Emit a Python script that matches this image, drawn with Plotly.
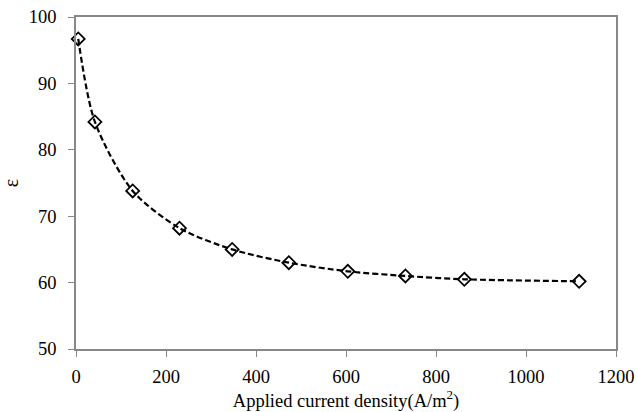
import plotly.graph_objects as go

current_density = [5, 42, 126, 230, 347, 473, 604, 732, 863, 1118]
epsilon = [96.7, 84.2, 73.8, 68.2, 65.0, 63.0, 61.7, 61.0, 60.5, 60.2]

x_ticks = [0, 200, 400, 600, 800, 1000, 1200]
y_ticks = [50, 60, 70, 80, 90, 100]

SERIF = "Liberation Serif"

fig = go.Figure()
fig.add_trace(go.Scatter(
    x=current_density, y=epsilon, mode="lines+markers",
    line=dict(color="black", width=2.2, dash="6px,3px", shape="spline", smoothing=0.8),
    marker=dict(symbol="diamond-open", size=10, color="black", line=dict(width=1.8, color="black")),
    showlegend=False, cliponaxis=False,
))

axis_common = dict(
    showline=True, linecolor="#888888", linewidth=1.5, mirror=True,
    ticks="outside", ticklen=6, tickcolor="#888888", tickwidth=1.2,
    showgrid=False, zeroline=False, automargin=False,
    ticklabeloverflow="allow",
    tickfont=dict(family=SERIF, size=18.5, color="black"),
)

fig.update_layout(
    width=637, height=412,
    margin=dict(l=76, r=21, t=17, b=63),
    font=dict(family=SERIF, color="black"),
    paper_bgcolor="white", plot_bgcolor="white",
    xaxis=dict(range=[0, 1200], tickvals=x_ticks, ticklabelstandoff=4,
               title=dict(text="Applied current density(A/m<sup>2</sup>)",
                          font=dict(family=SERIF, size=18.5, color="black"),
                          standoff=9),
               **axis_common),
    yaxis=dict(range=[50, 100], tickvals=y_ticks, ticklabelstandoff=8,
               title=dict(text="ε", font=dict(family=SERIF, size=20, color="black"),
                          standoff=27),
               **axis_common),
)

# remove the default page margin so the figure fills the window exactly
fig.write_html("out.html", config={"displayModeBar": False},
               post_script="document.body.style.margin='0';document.body.style.overflow='hidden';")
